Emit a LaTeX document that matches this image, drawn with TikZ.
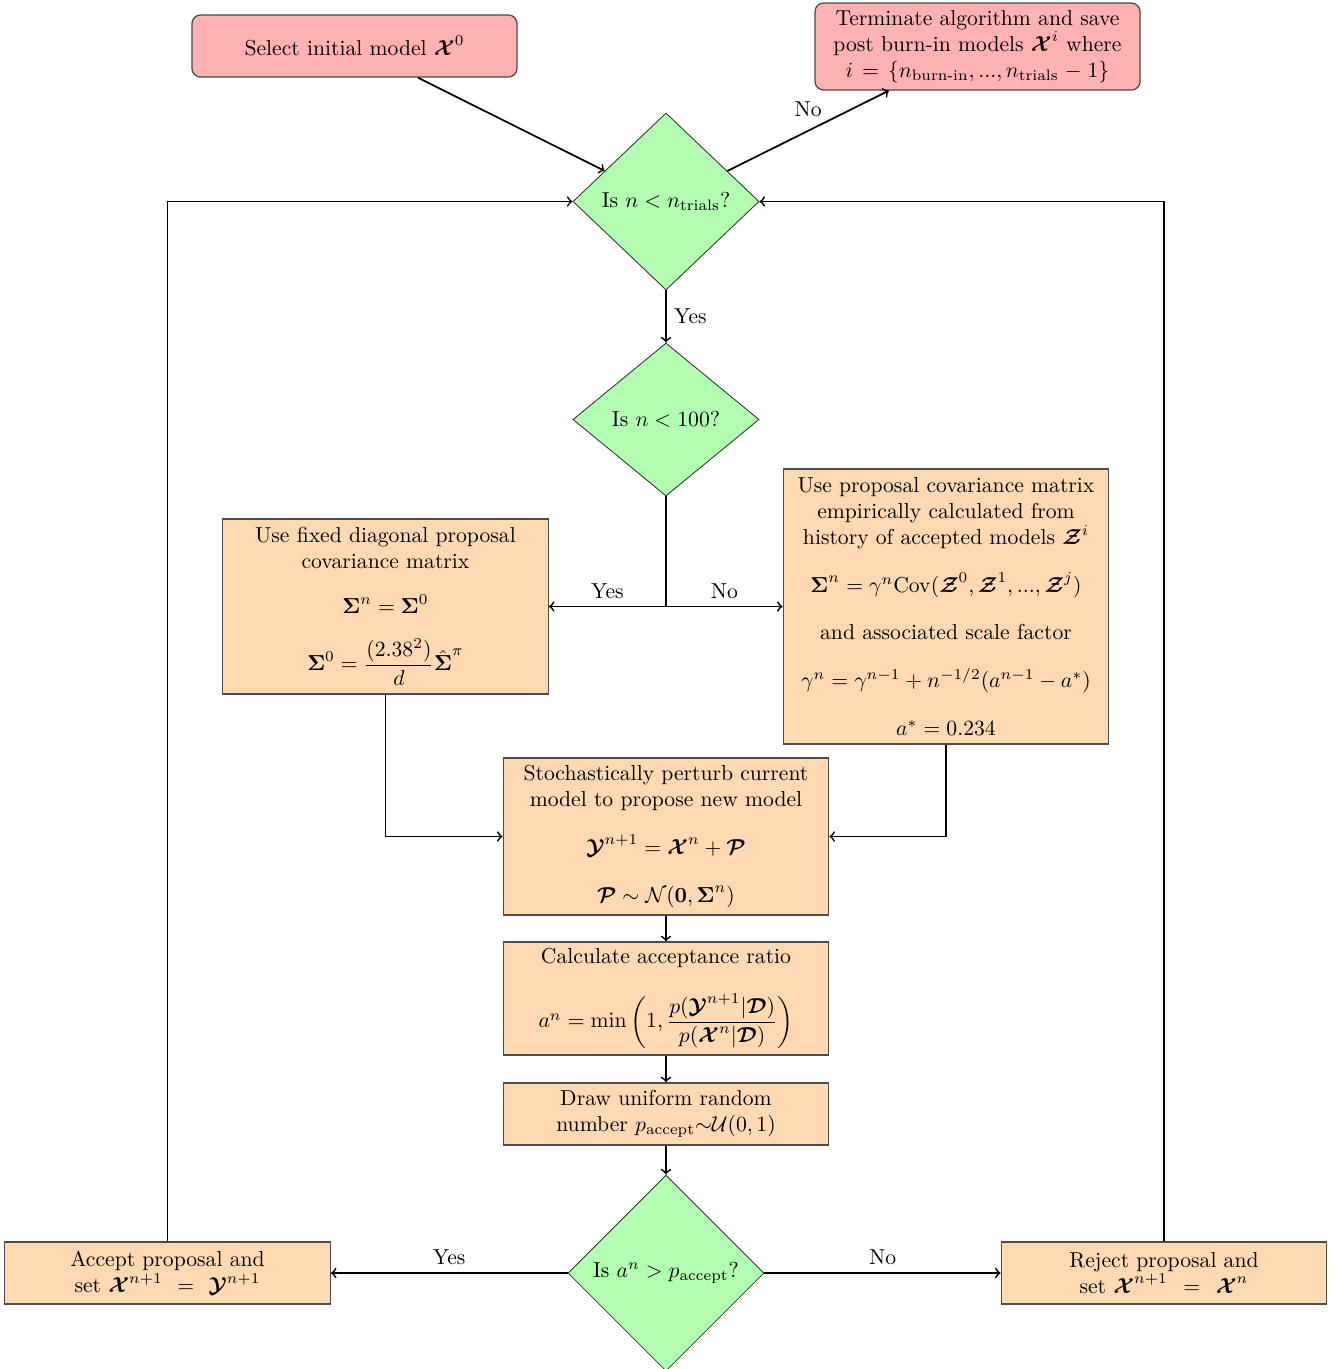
\documentclass[tikz,border=0pt]{standalone}
\usepackage{amsmath,amssymb}
\usetikzlibrary{shapes.geometric,positioning}
\newcommand{\mX}{\boldsymbol{\mathcal{X}}}
\newcommand{\mY}{\boldsymbol{\mathcal{Y}}}
\newcommand{\mZ}{\boldsymbol{\mathcal{Z}}}
\newcommand{\mD}{\boldsymbol{\mathcal{D}}}
\newcommand{\mP}{\boldsymbol{\mathcal{P}}}
\newcommand{\mSig}{\boldsymbol{\Sigma}}
\begin{document}
\begin{tikzpicture}[x=0.4621pt,y=-0.4621pt,
  proc/.style={rectangle,draw=black!70,line width=0.6pt,fill=orange!30,minimum width=150.4pt,text width=142pt,align=center,inner sep=3pt},
  termbox/.style={rectangle,rounded corners=4pt,draw=black!70,line width=0.6pt,fill=red!30,minimum width=150.2pt,text width=142pt,align=center,inner sep=3pt},
  dec/.style={diamond,draw=black!80,fill=green!30,aspect=1,inner sep=1pt},
  conn/.style={->,thick}]
\useasboundingbox (0,0) rectangle (1336,1369);

\node[termbox,minimum height=28.7pt] (start) at (354.5,46) {Select initial model $\mX^0$};
\node[termbox,minimum height=40.2pt] (term) at (977.5,46.5) {Terminate algorithm and save\\ post burn-in models $\mX^i$ where\\ $i=\{n_{\text{burn-in}},...,n_{\text{trials}}-1\}$};
\node[dec,minimum width=86pt,minimum height=81.8pt] (d1) at (666,201.5) {Is $n<n_{\text{trials}}$?};
\node[dec,minimum width=86pt,minimum height=70.7pt] (d2) at (666,419.5) {Is $n<100$?};
\node[proc,minimum height=80.9pt] (left) at (385.5,606.5) {Use fixed diagonal proposal\\ covariance matrix\\[9pt] \mbox{$\mSig^n=\mSig^0$}\\[10.5pt] \mbox{$\mSig^0=\dfrac{(2.38^2)}{d}\hat{\mSig}^\pi$}};
\node[proc,minimum height=127.1pt] (right) at (946,606.5) {Use proposal covariance matrix\\ empirically calculated from\\ history of accepted models $\mZ^i$\\[10pt] \mbox{$\mSig^n=\gamma^n\mathrm{Cov}(\mZ^0,\mZ^1,...,\mZ^j)$}\\[10pt] and associated scale factor\\[10pt] \mbox{$\gamma^n=\gamma^{n-1}+n^{-1/2}(a^{n-1}-a^*)$}\\[10pt] \mbox{$a^*=0.234$}};
\node[proc,minimum height=72.6pt] (stoch) at (666,836.5) {Stochastically perturb current\\ model to propose new model\\[10pt] \mbox{$\mY^{n+1}=\mX^n+\mP$}\\[10pt] \mbox{$\mP\sim\mathcal{N}(\mathbf{0},\mSig^n)$}};
\node[proc,minimum height=52.2pt] (calc) at (666,998.5) {Calculate acceptance ratio\\[11pt] \mbox{$a^n=\min\left(1,\dfrac{p(\mY^{n+1}|\mD)}{p(\mX^n|\mD)}\right)$}};
\node[proc,minimum height=28.7pt] (drawu) at (666,1114) {Draw uniform random\\ number $p_{\text{accept}}{\sim}\mathcal{U}(0,1)$};
\node[dec,minimum width=90.6pt,minimum height=90.6pt] (d3) at (666,1273) {Is $a^n>p_{\text{accept}}$?};
\node[proc,minimum height=28.7pt] (accept) at (167.5,1273) {Accept proposal and\\ set $\mX^{n+1}=\mY^{n+1}$};
\node[proc,minimum height=28.7pt] (reject) at (1164,1273) {Reject proposal and\\ set $\mX^{n+1}=\mX^n$};

\coordinate (split) at (666,606.5);

\draw[conn] (start) -- (d1);
\draw[conn] (d1) -- node[midway,above=2.6pt] {No} (term);
\draw[conn] (d1) -- node[midway,right] {Yes} (d2);
\draw[thick] (d2.south) -- (split);
\draw[conn] (split) -- node[midway,above] {Yes} (left.east);
\draw[conn] (split) -- node[midway,above] {No} (right.west);
\draw[conn] (left.south) |- (stoch.west);
\draw[conn] (right.south) |- (stoch.east);
\draw[conn] (stoch) -- (calc);
\draw[conn] (calc) -- (drawu);
\draw[conn] (drawu) -- (d3);
\draw[conn] (d3) -- node[midway,above] {Yes} (accept);
\draw[conn] (d3) -- node[midway,above] {No} (reject);
\draw[conn] (accept.north) |- (d1.west);
\draw[conn] (reject.north) |- (d1.east);
\end{tikzpicture}
\end{document}
